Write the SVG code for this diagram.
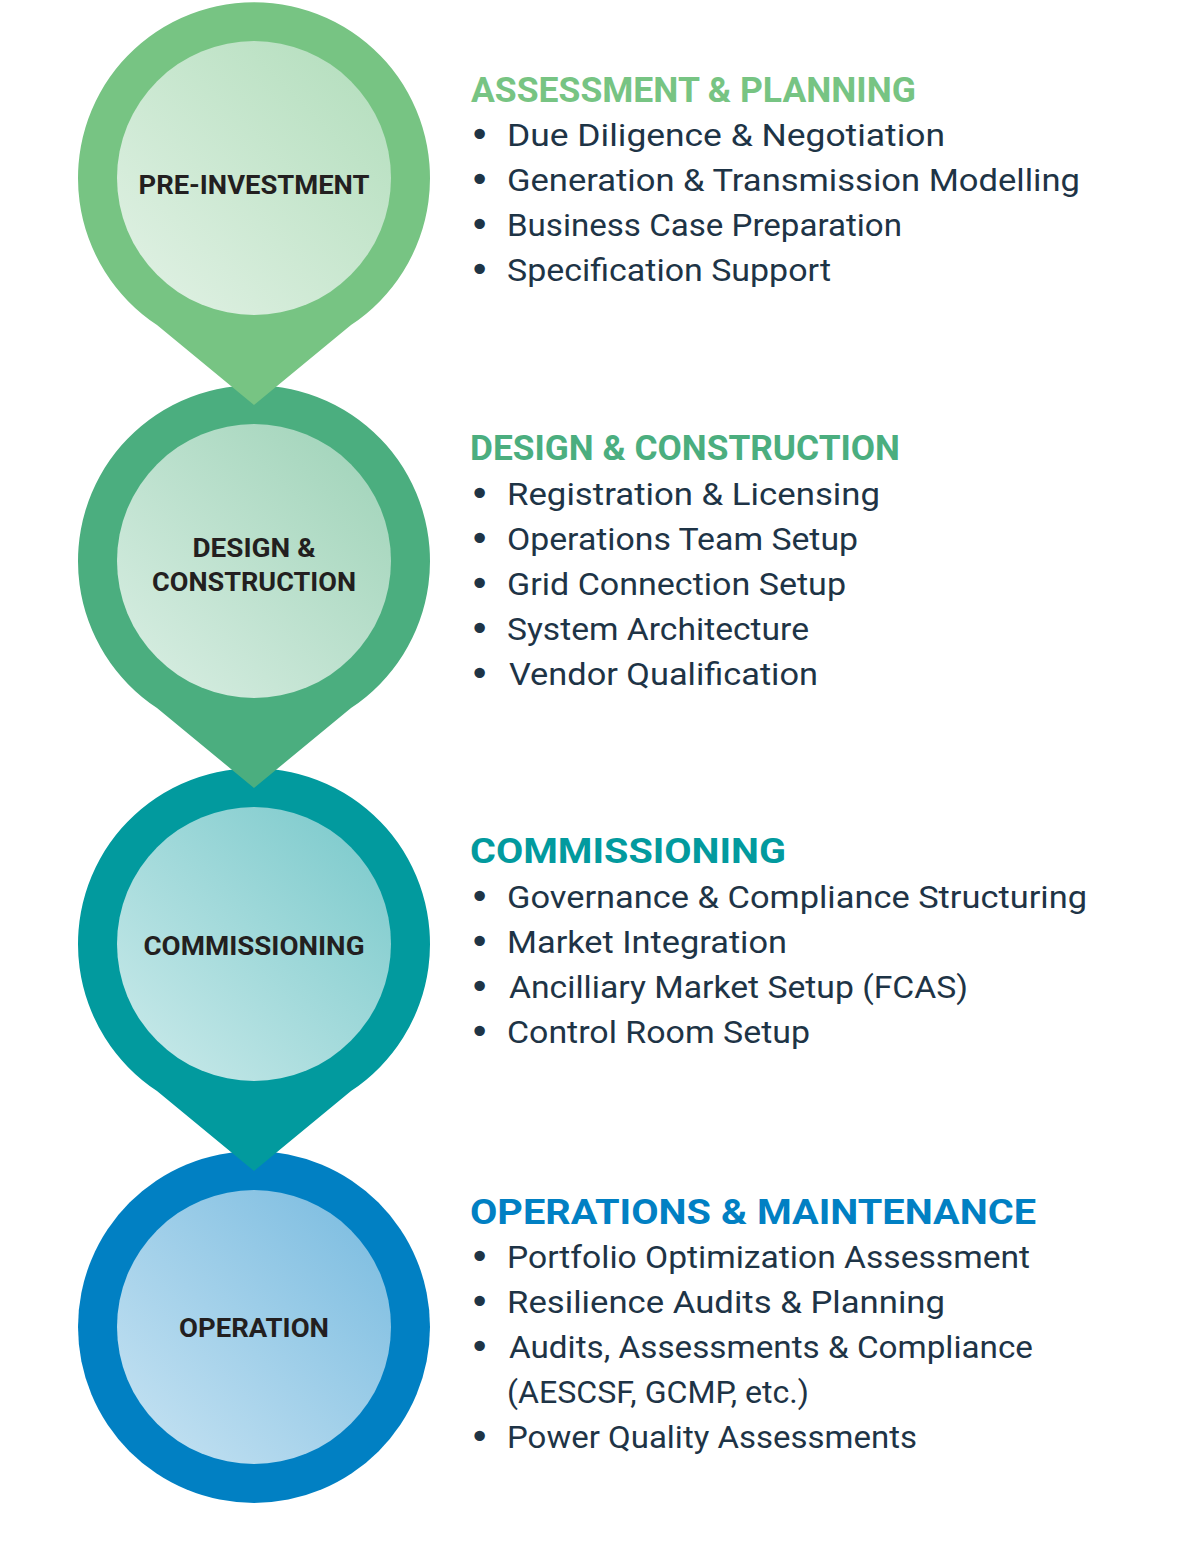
<svg xmlns="http://www.w3.org/2000/svg" width="1182" height="1554" viewBox="0 0 1182 1554">
<defs>
<linearGradient id="g1" x1="0" y1="1" x2="1" y2="0"><stop offset="0" stop-color="#e3f2e6"/><stop offset="1" stop-color="#b1ddbb"/></linearGradient>
<linearGradient id="g2" x1="0" y1="1" x2="1" y2="0"><stop offset="0" stop-color="#dbefe4"/><stop offset="1" stop-color="#9dd2b7"/></linearGradient>
<linearGradient id="g3" x1="0" y1="1" x2="1" y2="0"><stop offset="0" stop-color="#cdebeb"/><stop offset="1" stop-color="#77c8ca"/></linearGradient>
<linearGradient id="g4" x1="0" y1="1" x2="1" y2="0"><stop offset="0" stop-color="#c9e4f3"/><stop offset="1" stop-color="#77badf"/></linearGradient>
<style>
.lbl{font-family:Roboto,"Liberation Sans",sans-serif;font-weight:700;font-size:25px;fill:#231f20;text-anchor:middle}
.hd{font-family:Roboto,"Liberation Sans",sans-serif;font-weight:700;font-size:35px}
.it{font-family:Roboto,"Liberation Sans",sans-serif;font-size:31px;fill:#1e3446}
.bl{font-family:"DejaVu Sans",sans-serif;font-size:36px;fill:#1e3446}
</style>
</defs>
<rect width="1182" height="1554" fill="#ffffff"/>
<g id="node-operation">
<circle cx="254" cy="1327" r="176" fill="#0180c3"/>
<circle cx="254" cy="1327" r="137" fill="url(#g4)"/>
<text class="lbl" x="254" y="1337" textLength="150" lengthAdjust="spacingAndGlyphs">OPERATION</text>
</g>
<g id="node-commissioning">
<path d="M157,1091 A176,176 0 1 1 351,1091 L254,1171 Z" fill="#029a9e"/>
<circle cx="254" cy="944" r="137" fill="url(#g3)"/>
<text class="lbl" x="254" y="955" textLength="221" lengthAdjust="spacingAndGlyphs">COMMISSIONING</text>
</g>
<g id="node-design">
<path d="M157,708 A176,176 0 1 1 351,708 L254,788 Z" fill="#4bae7f"/>
<circle cx="254" cy="561" r="137" fill="url(#g2)"/>
<text class="lbl" x="254" y="557" textLength="123" lengthAdjust="spacingAndGlyphs">DESIGN &amp;</text>
<text class="lbl" x="254" y="591" textLength="204" lengthAdjust="spacingAndGlyphs">CONSTRUCTION</text>
</g>
<g id="node-preinvestment">
<path d="M157,325 A176,176 0 1 1 351,325 L254,405 Z" fill="#77c483"/>
<circle cx="254" cy="178" r="137" fill="url(#g1)"/>
<text class="lbl" x="254" y="194" textLength="231" lengthAdjust="spacingAndGlyphs">PRE-INVESTMENT</text>
</g>
<g id="connectors"></g>
<g id="section-assessment">
<text class="hd" x="471" y="102" fill="#77c483" textLength="445" lengthAdjust="spacingAndGlyphs">ASSESSMENT &amp; PLANNING</text>
<text class="bl" x="469" y="147">•</text><text class="it" x="507" y="146" textLength="438" lengthAdjust="spacingAndGlyphs">Due Diligence &amp; Negotiation</text>
<text class="bl" x="469" y="192">•</text><text class="it" x="507" y="191" textLength="573" lengthAdjust="spacingAndGlyphs">Generation &amp; Transmission Modelling</text>
<text class="bl" x="469" y="237">•</text><text class="it" x="507" y="236" textLength="395" lengthAdjust="spacingAndGlyphs">Business Case Preparation</text>
<text class="bl" x="469" y="282">•</text><text class="it" x="507" y="281" textLength="324" lengthAdjust="spacingAndGlyphs">Specification Support</text>
</g>
<g id="section-design">
<text class="hd" x="470" y="460" fill="#4bae7f" textLength="430" lengthAdjust="spacingAndGlyphs">DESIGN &amp; CONSTRUCTION</text>
<text class="bl" x="469" y="506">•</text><text class="it" x="507" y="505" textLength="373" lengthAdjust="spacingAndGlyphs">Registration &amp; Licensing</text>
<text class="bl" x="469" y="551">•</text><text class="it" x="507" y="550" textLength="351" lengthAdjust="spacingAndGlyphs">Operations Team Setup</text>
<text class="bl" x="469" y="596">•</text><text class="it" x="507" y="595" textLength="339" lengthAdjust="spacingAndGlyphs">Grid Connection Setup</text>
<text class="bl" x="469" y="641">•</text><text class="it" x="507" y="640" textLength="302" lengthAdjust="spacingAndGlyphs">System Architecture</text>
<text class="bl" x="469" y="686">•</text><text class="it" x="509" y="685" textLength="309" lengthAdjust="spacingAndGlyphs">Vendor Qualification</text>
</g>
<g id="section-commissioning">
<text class="hd" x="470" y="863" fill="#029a9e" textLength="316" lengthAdjust="spacingAndGlyphs">COMMISSIONING</text>
<text class="bl" x="469" y="909">•</text><text class="it" x="507" y="908" textLength="580" lengthAdjust="spacingAndGlyphs">Governance &amp; Compliance Structuring</text>
<text class="bl" x="469" y="954">•</text><text class="it" x="507" y="953" textLength="280" lengthAdjust="spacingAndGlyphs">Market Integration</text>
<text class="bl" x="469" y="999">•</text><text class="it" x="509" y="998" textLength="459" lengthAdjust="spacingAndGlyphs">Ancilliary Market Setup (FCAS)</text>
<text class="bl" x="469" y="1044">•</text><text class="it" x="507" y="1043" textLength="303" lengthAdjust="spacingAndGlyphs">Control Room Setup</text>
</g>
<g id="section-operations">
<text class="hd" x="470" y="1224" fill="#0180c3" textLength="566" lengthAdjust="spacingAndGlyphs">OPERATIONS &amp; MAINTENANCE</text>
<text class="bl" x="469" y="1269">•</text><text class="it" x="507" y="1268" textLength="523" lengthAdjust="spacingAndGlyphs">Portfolio Optimization Assessment</text>
<text class="bl" x="469" y="1314">•</text><text class="it" x="507" y="1313" textLength="438" lengthAdjust="spacingAndGlyphs">Resilience Audits &amp; Planning</text>
<text class="bl" x="469" y="1359">•</text><text class="it" x="509" y="1358" textLength="524" lengthAdjust="spacingAndGlyphs">Audits, Assessments &amp; Compliance</text>
<text class="it" x="507" y="1403" textLength="302" lengthAdjust="spacingAndGlyphs">(AESCSF, GCMP, etc.)</text>
<text class="bl" x="469" y="1449">•</text><text class="it" x="507" y="1448" textLength="410" lengthAdjust="spacingAndGlyphs">Power Quality Assessments</text>
</g>
</svg>
